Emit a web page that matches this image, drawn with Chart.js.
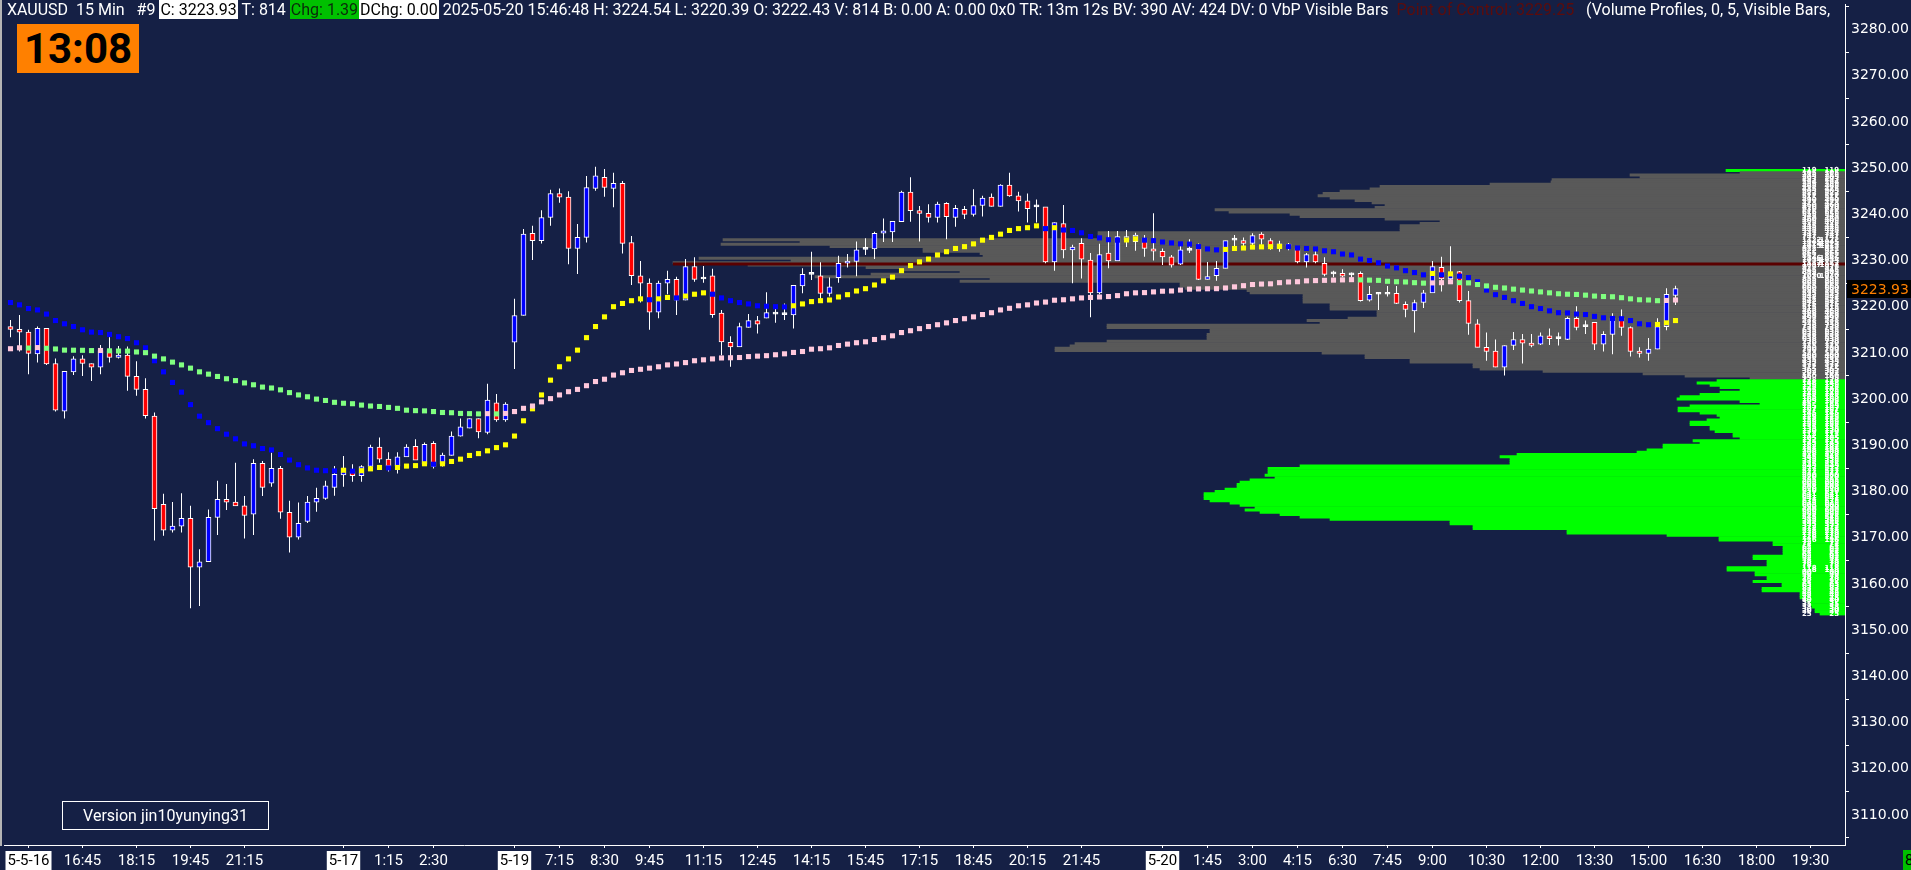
<!DOCTYPE html>
<html>
<head>
<meta charset="utf-8">
<title>XAUUSD 15 Min</title>
<script src="https://cdn.jsdelivr.net/npm/chart.js@4.4.1/dist/chart.umd.min.js"></script>
<style>
  html, body { margin: 0; padding: 0; background: #152045; overflow: hidden; }
  #wrap { position: relative; width: 1911px; height: 870px; }
  #chart { position: absolute; left: 0; top: 0; }
  #edge { position: absolute; left: 0; top: 0; width: 2px; height: 846px; background: #b4b4b4; }
  #header { position: absolute; left: 7px; top: 0; width: 1836px; height: 20px; overflow: hidden;
            white-space: nowrap; font: 16px Roboto, sans-serif; line-height: 20px; color: #fff; }
  #header .wb { background: #fff; color: #000; padding: 0 1px; }
  #header .gb { background: #00c000; color: #0a2a0a; padding: 0 1px; }
  #header .poc { color: #5c0c0c; }
  #clock { position: absolute; left: 17px; top: 24px; width: 122px; height: 49px; background: #ff8000;
           color: #000; font: bold 42px Roboto, sans-serif; line-height: 50px; text-align: center; }
  #version { position: absolute; left: 62px; top: 801px; width: 205px; height: 27px; border: 1px solid #fff;
             color: #fff; font: 16px Roboto, sans-serif; line-height: 27px; text-align: center; }
  #barsBox { position: absolute; left: 1903px; top: 850px; width: 10px; height: 20px; background: #00c000;
             color: #000; font: 15px Roboto, sans-serif; line-height: 20px; padding-left: 2px; }
</style>
</head>
<body>
<div id="wrap">
  <canvas id="chart" width="1911" height="870"></canvas>
  <div id="edge"></div>
  <div id="header">XAUUSD&nbsp; 15 Min&nbsp;&nbsp; #9 <span class="wb">C: 3223.93</span> T: 814 <span class="gb">Chg: 1.39</span><span class="wb">DChg: 0.00</span> 2025-05-20 15:46:48 H: 3224.54 L: 3220.39 O: 3222.43 V: 814 B: 0.00 A: 0.00 0x0 TR: 13m 12s BV: 390 AV: 424 DV: 0 VbP Visible Bars&nbsp; <span class="poc">Point of Control: 3229.25</span>&nbsp;&nbsp; (Volume Profiles, 0, 5, Visible Bars,</div>
  <div id="clock">13:08</div>
  <div id="version">Version jin10yunying31</div>
  <div id="barsBox">8</div>
</div>
<script>
// ================= Data (15 min bars, index 1 = first visible bar) =================
const firstBar = 1;

const opens = [
  3215.7,3215.1,3214.5,3209.8,3215.3,3207.7,3197.4,3205.9,3208.7,3207.7,
  3206.9,3210.5,3209.0,3209.5,3204.9,3202.1,3196.3,3177.2,3171.6,3172.5,
  3174.2,3163.6,3164.8,3174.4,3178.3,3177.7,3176.9,3175.1,3186.1,3181.8,
  3185.0,3175.5,3170.1,3173.5,3177.7,3178.5,3180.9,3183.6,3184.3,3183.4,
  3185.4,3189.6,3187.0,3185.5,3187.5,3189.8,3185.9,3190.4,3185.9,3187.8,
  3192.0,3193.7,3195.8,3192.8,3199.2,3195.5,3212.3,3218.1,3235.9,3234.3,
  3239.3,3244.5,3243.7,3232.6,3235.0,3245.6,3248.0,3245.6,3246.7,3233.9,
  3226.7,3225.1,3218.8,3225.1,3225.9,3221.4,3228.7,3226.0,3226.7,3218.6,
  3212.3,3211.3,3215.5,3217.0,3217.5,3218.4,3218.3,3218.2,3224.5,3227.0,
  3226.7,3222.9,3226.3,3229.4,3229.8,3232.4,3232.5,3235.9,3236.2,3238.4,
  3244.8,3240.8,3240.2,3239.3,3242.4,3239.3,3241.1,3240.0,3241.9,3243.7,
  3241.7,3246.3,3244.0,3242.9,3241.6,3241.6,3229.7,3238.0,3232.3,3233.7,
  3230.1,3223.0,3231.6,3229.9,3234.5,3234.1,3234.8,3232.5,3232.0,3230.8,
  3229.2,3232.2,3232.6,3225.9,3226.7,3228.3,3234.4,3234.3,3233.7,3235.7,
  3234.3,3233.6,3233.1,3232.6,3229.7,3231.3,3229.4,3227.1,3227.2,3226.9,
  3227.2,3221.4,3222.7,3222.7,3222.9,3220.5,3219.1,3220.9,3223.0,3228.5,
  3226.0,3227.6,3221.3,3216.3,3211.2,3210.4,3206.9,3211.6,3212.9,3212.1,
  3211.9,3213.7,3213.1,3212.9,3217.5,3215.7,3216.6,3211.9,3214.0,3217.5,
  3215.5,3210.4,3209.9,3210.8,3215.7,3222.43
];
const highs = [
  3217.1,3218.2,3215.0,3215.7,3215.3,3208.8,3206.0,3209.3,3209.5,3207.7,
  3211.7,3213.4,3211.5,3211.4,3208.2,3204.5,3197.1,3179.5,3177.7,3179.6,
  3176.9,3167.5,3176.1,3182.3,3181.6,3186.2,3179.0,3187.0,3186.6,3188.4,
  3185.5,3178.0,3177.6,3179.0,3180.8,3182.3,3185.5,3187.7,3185.9,3185.7,
  3190.1,3191.7,3188.5,3188.5,3190.2,3191.3,3190.6,3190.9,3188.4,3193.0,
  3195.8,3195.8,3195.8,3203.3,3201.1,3199.3,3221.7,3236.8,3237.5,3240.9,
  3245.3,3245.6,3245.0,3237.9,3248.3,3250.3,3249.8,3249.0,3247.2,3235.3,
  3229.9,3226.1,3225.6,3227.8,3226.5,3230.3,3230.7,3228.8,3228.2,3219.3,
  3213.6,3216.5,3218.4,3218.0,3223.1,3220.1,3220.7,3224.7,3228.3,3231.9,
  3229.6,3226.3,3231.0,3231.4,3234.1,3234.8,3236.2,3239.1,3238.5,3245.1,
  3248.0,3241.8,3242.2,3242.7,3242.6,3242.0,3241.8,3245.4,3244.0,3244.5,
  3246.5,3249.0,3244.9,3244.5,3243.2,3241.6,3238.2,3242.0,3233.4,3234.8,
  3231.6,3233.6,3236.4,3236.4,3236.6,3236.0,3235.5,3240.2,3232.6,3231.2,
  3233.4,3234.6,3233.7,3229.7,3229.9,3234.3,3235.5,3235.0,3235.9,3236.1,
  3234.8,3234.3,3233.8,3233.0,3231.6,3232.3,3230.7,3227.8,3228.1,3227.4,
  3227.6,3224.5,3223.2,3224.5,3224.5,3221.1,3221.5,3223.6,3229.9,3230.8,
  3233.1,3227.7,3223.4,3217.3,3214.4,3212.9,3211.6,3214.5,3214.1,3214.1,
  3214.4,3215.3,3214.4,3217.8,3220.1,3217.0,3216.6,3214.7,3218.6,3219.4,
  3215.7,3211.2,3213.2,3217.5,3224.0,3224.54
];
const lows = [
  3213.4,3210.3,3205.4,3207.9,3207.4,3197.3,3195.8,3205.2,3205.0,3203.9,
  3205.4,3207.9,3208.8,3201.8,3200.7,3195.8,3169.4,3170.4,3171.1,3171.1,
  3154.7,3155.2,3164.8,3170.6,3176.0,3176.9,3169.8,3170.6,3179.0,3181.0,
  3174.1,3166.8,3169.6,3173.2,3175.6,3178.2,3179.1,3181.0,3182.1,3182.1,
  3185.0,3186.2,3184.3,3183.9,3187.5,3186.8,3185.9,3185.0,3185.4,3187.8,
  3191.9,3193.7,3191.5,3192.4,3195.1,3195.1,3206.5,3218.1,3230.1,3233.7,
  3237.5,3242.5,3229.2,3227.1,3233.9,3245.1,3243.8,3241.5,3231.5,3224.7,
  3220.9,3215.0,3217.5,3222.7,3218.2,3221.4,3225.4,3225.2,3217.6,3209.5,
  3207.0,3211.3,3215.5,3214.2,3217.5,3216.5,3217.1,3215.3,3222.9,3225.8,
  3221.5,3222.2,3225.2,3228.5,3226.6,3231.2,3230.3,3234.0,3234.0,3238.4,
  3238.4,3234.1,3238.2,3238.2,3234.6,3237.3,3239.0,3239.5,3239.5,3241.7,
  3241.7,3243.8,3240.6,3238.2,3238.2,3229.4,3227.8,3230.5,3225.1,3226.1,
  3217.7,3222.7,3228.3,3229.9,3232.9,3232.1,3230.8,3230.0,3229.0,3228.5,
  3229.0,3231.6,3225.8,3225.9,3225.6,3228.3,3233.0,3232.4,3233.0,3233.4,
  3232.3,3231.9,3232.2,3229.4,3228.5,3229.4,3226.6,3226.4,3226.4,3226.3,
  3221.1,3221.1,3219.3,3222.2,3220.6,3217.7,3214.4,3219.7,3223.0,3223.3,
  3225.1,3220.9,3213.9,3211.2,3208.3,3206.9,3205.1,3210.6,3207.7,3211.2,
  3211.7,3211.7,3211.6,3212.8,3214.9,3214.1,3210.6,3210.3,3209.7,3213.7,
  3209.2,3209.0,3208.3,3210.8,3214.9,3220.39
];
const closes = [
  3215.1,3214.5,3209.9,3215.3,3207.6,3197.6,3206.0,3208.7,3207.7,3206.9,
  3210.5,3209.0,3209.5,3204.9,3202.1,3196.4,3176.3,3171.6,3172.5,3174.2,
  3163.6,3164.8,3174.4,3178.3,3177.7,3176.9,3174.8,3186.1,3180.9,3185.0,
  3175.5,3170.1,3173.1,3177.7,3178.5,3181.2,3183.7,3185.0,3183.4,3185.4,
  3189.6,3187.0,3185.5,3187.5,3189.6,3186.8,3190.2,3185.4,3187.9,3192.0,
  3194.0,3195.8,3192.9,3199.8,3195.5,3198.9,3218.1,3235.7,3234.3,3239.3,
  3244.5,3243.7,3232.6,3235.0,3245.8,3248.3,3245.8,3246.7,3233.7,3226.7,
  3225.1,3218.8,3225.1,3225.9,3221.4,3228.7,3225.9,3226.0,3218.3,3212.4,
  3211.3,3215.7,3217.0,3216.2,3218.7,3218.4,3218.3,3224.6,3227.0,3227.0,
  3222.9,3224.3,3229.4,3229.9,3232.3,3232.4,3235.9,3236.4,3238.5,3244.8,
  3240.8,3240.2,3239.3,3242.2,3239.5,3241.3,3240.0,3241.9,3243.5,3241.7,
  3246.3,3244.0,3242.9,3241.2,3241.6,3229.7,3238.2,3232.3,3232.9,3230.3,
  3223.0,3231.3,3229.9,3235.2,3235.2,3235.5,3232.6,3232.0,3230.8,3229.0,
  3232.3,3232.2,3225.9,3226.5,3228.3,3234.3,3234.4,3233.7,3235.4,3234.6,
  3233.0,3232.6,3233.1,3229.7,3231.3,3229.7,3227.0,3227.1,3226.6,3226.9,
  3221.3,3222.7,3222.7,3222.7,3220.7,3219.4,3220.9,3223.0,3228.7,3226.0,
  3226.9,3221.3,3216.4,3211.2,3210.3,3206.9,3211.6,3212.9,3212.1,3211.6,
  3213.7,3213.1,3213.1,3217.5,3215.5,3215.7,3211.9,3214.0,3217.5,3215.5,
  3210.3,3209.9,3210.8,3215.7,3222.7,3223.93
];

// fast average (yellow rising / blue falling)
const fastMA = [
  3220.9,3220.4,3219.6,3219.3,3218.4,3217.0,3216.3,3215.7,3215.0,3214.5,
  3214.4,3214.0,3213.5,3213.1,3212.2,3211.1,3208.3,3205.9,3203.6,3201.5,
  3198.8,3196.3,3194.9,3193.6,3192.4,3191.4,3190.3,3189.9,3189.3,3189.0,
  3188.0,3186.8,3185.8,3185.1,3184.6,3184.5,3184.45,3184.6,3184.4,3184.5,
  3184.9,3185.2,3185.1,3185.2,3185.5,3185.6,3186.0,3185.9,3186.0,3186.5,
  3187.0,3187.8,3188.2,3188.8,3189.5,3190.1,3192.0,3195.3,3197.9,3200.9,
  3204.1,3207.0,3208.7,3210.6,3213.3,3215.7,3217.8,3220.0,3220.7,3221.3,
  3221.7,3221.5,3221.7,3222.0,3221.9,3222.3,3222.7,3223.0,3222.7,3221.9,
  3221.3,3220.9,3220.6,3220.2,3220.1,3220.0,3219.95,3220.2,3220.6,3221.1,
  3221.3,3221.45,3222.1,3222.6,3223.4,3223.9,3224.7,3225.6,3226.4,3227.8,
  3228.9,3229.7,3230.3,3231.2,3231.9,3232.6,3233.0,3233.6,3234.4,3235.0,
  3235.7,3236.5,3236.9,3237.1,3237.5,3236.9,3237.1,3236.6,3236.5,3236.0,
  3235.2,3234.9,3234.5,3234.4,3234.45,3234.7,3234.4,3234.3,3234.0,3233.8,
  3233.6,3233.55,3233.0,3232.5,3232.3,3232.4,3232.6,3232.7,3232.9,3232.95,
  3233.0,3233.05,3233.0,3232.7,3232.6,3232.5,3232.1,3231.9,3231.4,3231.2,
  3230.3,3230.0,3229.5,3228.8,3228.4,3227.8,3227.4,3226.9,3227.2,3226.9,
  3227.1,3226.6,3226.3,3225.4,3223.6,3222.6,3222.0,3221.3,3220.7,3220.0,
  3219.6,3219.1,3218.7,3218.65,3218.4,3218.3,3217.9,3217.6,3217.45,3217.4,
  3217.0,3216.3,3216.1,3216.15,3216.5,3217.0
];
// slow average (pink rising / green falling)
const slowMA = [
  3210.9,3211.1,3211.05,3211.15,3211.0,3210.85,3210.6,3210.58,3210.56,3210.5,
  3210.52,3210.45,3210.4,3210.38,3210.2,3210.05,3209.3,3208.7,3208.0,3207.4,
  3206.7,3205.9,3205.4,3204.9,3204.4,3204.0,3203.5,3203.1,3202.6,3202.4,
  3202.0,3201.4,3200.9,3200.5,3200.0,3199.7,3199.3,3199.1,3199.0,3198.7,
  3198.5,3198.4,3198.2,3198.0,3197.6,3197.5,3197.45,3197.3,3197.1,3197.05,
  3196.9,3196.85,3196.8,3196.85,3196.8,3196.9,3197.3,3198.0,3198.5,3199.4,
  3200.1,3200.9,3201.6,3202.1,3202.9,3203.8,3204.3,3205.2,3205.7,3206.2,
  3206.45,3206.7,3207.0,3207.4,3207.6,3207.9,3208.3,3208.5,3208.7,3208.9,
  3208.95,3209.0,3209.2,3209.3,3209.4,3209.6,3209.8,3210.1,3210.3,3210.8,
  3210.9,3211.1,3211.6,3211.9,3212.2,3212.4,3212.9,3213.3,3213.7,3214.4,
  3214.8,3215.25,3215.7,3216.1,3216.5,3217.0,3217.4,3217.8,3218.3,3218.7,
  3219.3,3219.65,3220.2,3220.4,3220.8,3221.0,3221.4,3221.5,3221.7,3221.9,
  3222.0,3222.1,3222.2,3222.4,3222.8,3223.0,3223.05,3223.2,3223.35,3223.4,
  3223.6,3223.8,3223.85,3223.88,3223.9,3224.05,3224.3,3224.55,3224.8,3224.9,
  3224.95,3225.2,3225.35,3225.4,3225.6,3225.65,3225.7,3225.75,3225.8,3225.85,
  3225.8,3225.75,3225.7,3225.5,3225.4,3225.35,3225.2,3225.1,3225.15,3225.2,
  3225.4,3225.2,3225.15,3224.8,3224.5,3224.2,3224.05,3223.8,3223.6,3223.4,
  3223.2,3223.0,3222.8,3222.7,3222.65,3222.5,3222.3,3222.2,3222.15,3221.95,
  3221.7,3221.5,3221.45,3221.3,3221.35,3221.45
];

// x axis labels (bar index where each label sits)
const xTickBars = [3, 9, 15, 21, 27, 38, 43, 48, 57, 62, 67, 72, 78, 84, 90, 96, 102, 108, 114, 120,
  129, 134, 139, 144, 149, 154, 159, 165, 171, 177, 183, 189, 195, 201];
const xTickLabels = ['5-5-16', '16:45', '18:15', '19:45', '21:15', '5-17', '1:15', '2:30', '5-19', '7:15',
  '8:30', '9:45', '11:15', '12:45', '14:15', '15:45', '17:15', '18:45', '20:15', '21:45',
  '5-20', '1:45', '3:00', '4:15', '6:30', '7:45', '9:00', '10:30', '12:00', '13:30',
  '15:00', '16:30', '18:00', '19:30'];
const yTicks = [3110, 3120, 3130, 3140, 3150, 3160, 3170, 3180, 3190, 3200, 3210, 3220,
  3230, 3240, 3250, 3260, 3270, 3280];

// volume by price (visible bars), top level first, one level per 0.5
const vpTop = 3249.5;
const vpStep = 0.5;
const vaHigh = 3249.0;   // value area
const vaLow = 3204.5;
const pocPrice = 3229.25;
const pocStartBar = 74.6;
const vpVolume = [
  119,105,215,205,293,294,355,465,475,505,
  522,527,515,490,473,460,470,630,616,555,
  545,460,405,425,445,445,445,747,747,747,
  1122,1045,1124,1015,922,922,865,862,1146,1054,
  1172,1097,979,945,885,974,1030,855,885,665,
  665,660,598,595,542,542,542,542,515,515,
  515,468,468,468,497,538,525,738,738,635,
  635,638,638,638,738,770,775,790,790,523,
  480,480,435,435,372,372,365,302,202,160,
  95,128,148,135,125,105,125,145,165,168,
  105,85,155,167,167,145,128,125,138,155,
  155,135,135,130,112,112,105,152,145,182,
  182,198,208,328,345,335,335,335,545,577,
  577,577,580,570,595,605,608,608,620,630,
  641,641,641,635,615,605,590,600,585,565,
  545,515,395,395,372,372,278,278,178,126,
  126,72,72,62,62,62,62,92,92,78,
  78,78,118,118,90,90,78,78,92,63,
  63,83,83,45,45,45,40,37,35,33,
  30,30,25
];

// ================= Helpers =================
const BG = '#152045';
const barIdx = closes.map((_, i) => firstBar + i);
const xMin = 2.5 / 9;            // plot starts at x=4, bar k centred at 1.5 + 9k px
const xMax = xMin + 1841 / 9;

function trendColors(values, upColor, downColor) {
  return values.map((v, i) => {
    if (i === 0) return values[1] > v ? upColor : downColor;
    return v > values[i - 1] ? upColor : downColor;
  });
}

const bodyColors = closes.map((c, i) => c > opens[i] ? '#0000ff' : c < opens[i] ? '#ff0000' : '#ffffff');
const vpPrices = vpVolume.map((_, i) => vpTop - i * vpStep);
const vpColors = vpPrices.map(p => (p <= vaHigh && p >= vaLow) ? '#595959' : '#00ff00');

function isDateLabel(s) { return s.indexOf(':') < 0; }
function noPad(s) { s.paddingLeft = 0; s.paddingRight = 0; s.paddingTop = 0; s.paddingBottom = 0; }

// ================= Overlay: volume numbers + last price =================
const overlay = {
  id: 'overlay',
  beforeDraw(chart) {
    const { ctx, width, height } = chart;
    ctx.save();
    ctx.fillStyle = BG;
    ctx.fillRect(0, 0, width, height);
    ctx.restore();
  },
  afterDatasetsDraw(chart) {
    const { ctx, scales: { y, vp } } = chart;
    const edge = vp.getPixelForValue(0);
    ctx.save();
    ctx.fillStyle = '#ffffff';
    ctx.font = 'bold 7px "DejaVu Sans"';
    ctx.textBaseline = 'middle';
    vpVolume.forEach((v, i) => {
      const py = y.getPixelForValue(vpPrices[i]);
      ctx.textAlign = 'left';
      ctx.fillText(String(v), edge - 43, py);
      ctx.textAlign = 'right';
      ctx.fillText(String(v), edge - 6, py);
    });
    ctx.restore();
  },
  afterDraw(chart) {
    const { ctx, scales: { y } } = chart;
    const last = closes[closes.length - 1];
    const py = Math.round(y.getPixelForValue(last));
    ctx.save();
    ctx.fillStyle = '#000000';
    ctx.fillRect(1847, py - 9, 64, 18);
    ctx.fillStyle = '#ff8000';
    ctx.font = '14px "DejaVu Sans"';
    ctx.textBaseline = 'middle';
    ctx.textAlign = 'left';
    ctx.fillText(last.toFixed(2), 1851, py + 1);
    ctx.restore();
  }
};

// ================= Chart =================
const ctx = document.getElementById('chart').getContext('2d');

new Chart(ctx, {
  type: 'bar',
  data: {
    datasets: [
      {
        label: 'Volume Profile',
        type: 'bar',
        indexAxis: 'y',
        xAxisID: 'vp',
        yAxisID: 'y',
        data: vpVolume.map((v, i) => ({ x: v, y: vpPrices[i] })),
        backgroundColor: vpColors,
        borderWidth: 0,
        barThickness: 2.31,
        grouped: false,
        order: 10
      },
      {
        label: 'Point of Control',
        type: 'line',
        xAxisID: 'x',
        yAxisID: 'y',
        data: [{ x: pocStartBar, y: pocPrice }, { x: xMax, y: pocPrice }],
        borderColor: '#5a0000',
        borderWidth: 3,
        pointRadius: 0,
        order: 9
      },
      {
        label: 'Wick',
        type: 'bar',
        xAxisID: 'x',
        yAxisID: 'y',
        data: barIdx.map((k, i) => ({ x: k, y: [lows[i], highs[i]] })),
        backgroundColor: '#ffffff',
        borderWidth: 0,
        barThickness: 1,
        inflateAmount: 0,
        grouped: false,
        order: 8
      },
      {
        label: 'Body',
        type: 'bar',
        xAxisID: 'x',
        yAxisID: 'y',
        data: barIdx.map((k, i) => ({ x: k, y: [opens[i], closes[i]] })),
        backgroundColor: bodyColors,
        borderColor: '#ffffff',
        borderWidth: 1,
        borderSkipped: false,
        barThickness: 5,
        minBarLength: 2,
        grouped: false,
        order: 7
      },
      {
        label: 'Fast MA',
        type: 'line',
        xAxisID: 'x',
        yAxisID: 'y',
        data: barIdx.map((k, i) => ({ x: k, y: fastMA[i] })),
        showLine: false,
        pointStyle: 'rect',
        pointRadius: 3.6,
        pointBorderWidth: 0,
        pointBackgroundColor: trendColors(fastMA, '#ffff00', '#0000ff'),
        order: 6
      },
      {
        label: 'Slow MA',
        type: 'line',
        xAxisID: 'x',
        yAxisID: 'y',
        data: barIdx.map((k, i) => ({ x: k, y: slowMA[i] })),
        showLine: false,
        pointStyle: 'rect',
        pointRadius: 3.6,
        pointBorderWidth: 0,
        pointBackgroundColor: trendColors(slowMA, '#ffc8dc', '#80ff80'),
        order: 5
      }
    ]
  },
  options: {
    responsive: false,
    animation: false,
    events: [],
    layout: { padding: { left: 3, top: 0, right: 0, bottom: 0 } },
    plugins: { legend: { display: false }, tooltip: { enabled: false } },
    scales: {
      x: {
        type: 'linear',
        position: 'bottom',
        offset: false,
        min: xMin,
        max: xMax,
        afterBuildTicks: s => { s.ticks = xTickBars.map(v => ({ value: v })); },
        afterFit: s => { s.height = 25; noPad(s); },
        grid: { offset: false, drawOnChartArea: false, drawTicks: true, tickLength: 3, color: '#ffffff' },
        border: { display: true, color: '#ffffff', width: 1 },
        ticks: {
          autoSkip: false,
          maxRotation: 0,
          padding: 4,
          font: { family: 'Roboto', size: 15 },
          color: c => isDateLabel(xTickLabels[c.index]) ? '#000000' : '#ffffff',
          showLabelBackdrop: true,
          backdropColor: c => isDateLabel(xTickLabels[c.index]) ? '#ffffff' : 'rgba(0,0,0,0)',
          backdropPadding: { left: 2, right: 2, top: 1, bottom: 1 },
          callback: (v, i) => xTickLabels[i]
        }
      },
      y: {
        type: 'linear',
        position: 'right',
        offset: false,
        min: 3103.48,
        max: 3285.52,
        afterBuildTicks: s => { s.ticks = yTicks.map(v => ({ value: v })); },
        afterFit: s => { s.width = 66; noPad(s); },
        grid: { drawOnChartArea: false, drawTicks: true, tickLength: 4, color: '#ffffff' },
        border: { display: true, color: '#ffffff', width: 1 },
        ticks: {
          padding: 2,
          font: { family: 'DejaVu Sans', size: 14 },
          color: '#ffffff',
          callback: v => v.toFixed(2)
        }
      },
      vp: {
        type: 'linear',
        axis: 'x',
        position: 'bottom',
        display: false,
        offset: false,
        bounds: 'data',
        reverse: true,
        min: 0,
        max: 1841,
        afterFit: s => { s.height = 0; noPad(s); }
      }
    }
  },
  plugins: [overlay]
});
</script>
</body>
</html>
